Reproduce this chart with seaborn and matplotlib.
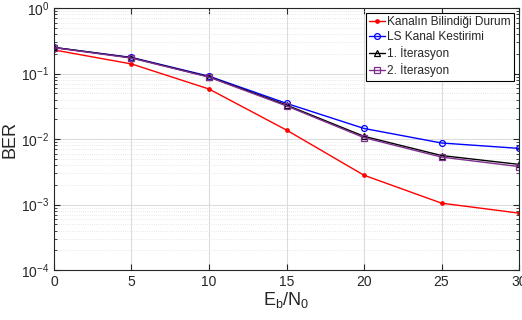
import numpy as np
import pandas as pd
import matplotlib
matplotlib.use('Agg')
import matplotlib.pyplot as plt
import seaborn as sns

ebn0 = [0, 5, 10, 15, 20, 25, 30]
ber_known = [0.229, 0.14, 0.058, 0.0137, 0.0028, 0.00105, 0.00074]
ber_ls = [0.25, 0.176, 0.091, 0.035, 0.0145, 0.0087, 0.0072]
ber_iter1 = [0.25, 0.174, 0.089, 0.033, 0.011, 0.0056, 0.0041]
ber_iter2 = [0.248, 0.172, 0.088, 0.032, 0.0105, 0.0053, 0.0038]

labels = ['Kanalın Bilindiği Durum', 'LS Kanal Kestirimi', '1. İterasyon', '2. İterasyon']

sns.set_style('ticks')
plt.rcParams['font.family'] = ['Liberation Sans', 'DejaVu Sans']
plt.rcParams['mathtext.default'] = 'regular'

fig = plt.figure(figsize=(5.22, 3.2), dpi=100)
ax = fig.add_axes([0.1034, 0.156, 0.891, 0.819])

styles = [
    dict(color='#ff0000', marker='.', markersize=5, mfc='#ff0000'),
    dict(color='#0000ff', marker='o', markersize=4.2, mfc='none'),
    dict(color='#000000', marker='^', markersize=4.2, mfc='none'),
    dict(color='#7e2f8e', marker='s', markersize=4.2, mfc='none'),
]
series = [ber_known, ber_ls, ber_iter1, ber_iter2]
for vals, lab, st in zip(series, labels, styles):
    sns.lineplot(x=ebn0, y=vals, ax=ax, label=lab, linewidth=1.0,
                 markeredgewidth=0.9, mec=st['color'], **st)

ax.set_yscale('log')
ax.set_xlim(0, 30)
ax.set_ylim(1e-4, 1)
ax.set_xticks([0, 5, 10, 15, 20, 25, 30])
ax.grid(True, which='major', color='#dcdcdc', linewidth=0.8)
ax.grid(True, which='minor', color='#e0e0e0', linewidth=0.6, linestyle=':')
ax.tick_params(which='both', direction='in', top=True, right=True, labelsize=10, colors='#262626')
ax.tick_params(which='major', length=4)
ax.tick_params(which='minor', length=2)
for s in ax.spines.values():
    s.set_color('#262626')
    s.set_linewidth(0.8)
ax.set_xlabel('$E_b/N_0$', fontsize=13, labelpad=1)
ax.set_ylabel('BER', fontsize=13, labelpad=2)

leg = ax.legend(loc='upper right', fontsize=8.6, frameon=True, fancybox=False,
                edgecolor='black', framealpha=1, handlelength=1.3,
                handletextpad=0.2, borderpad=0.3, labelspacing=0.25,
                borderaxespad=0.4)
leg.get_frame().set_linewidth(0.8)

fig.savefig('out.png', dpi=100)
